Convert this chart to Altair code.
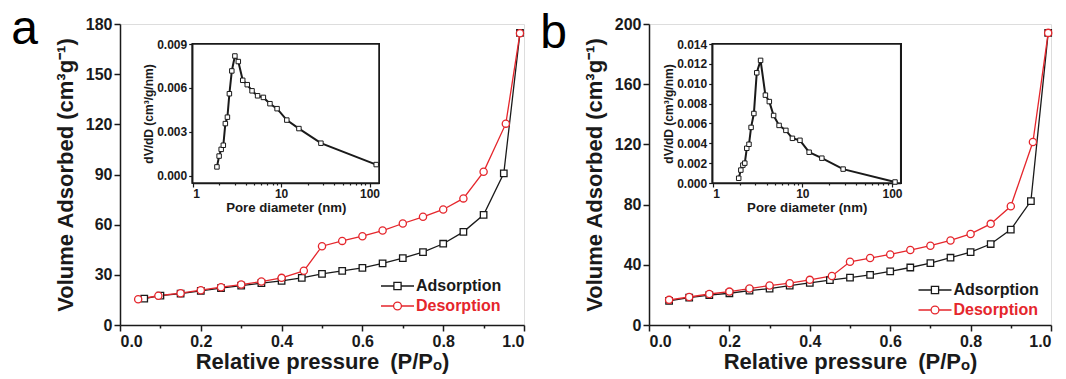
import altair as alt
import pandas as pd

BLACK = "#1a1a1a"
RED = "#e5262c"
FONT = "Liberation Sans"
SERIES = ["Adsorption", "Desorption"]

# ---------------- Panel a : N2 isotherm ----------------
a_ads_p = [0.06, 0.10, 0.15, 0.20, 0.25, 0.30, 0.35, 0.40, 0.45, 0.50,
           0.55, 0.60, 0.65, 0.70, 0.75, 0.80, 0.85, 0.90, 0.95, 0.99]
a_ads_v = [15.8, 17.6, 18.8, 20.4, 22.0, 23.6, 25.0, 26.4, 28.2, 30.6,
           32.4, 34.2, 36.8, 40.0, 43.6, 48.6, 55.7, 65.9, 90.7, 174.7]
a_des_p = [0.045, 0.095, 0.15, 0.20, 0.25, 0.30, 0.35, 0.40, 0.455, 0.50,
           0.55, 0.60, 0.65, 0.70, 0.75, 0.80, 0.85, 0.90, 0.955, 0.99]
a_des_v = [15.4, 17.5, 19.0, 20.8, 22.6, 24.2, 26.0, 28.2, 32.4, 47.1,
           50.3, 53.1, 56.5, 60.7, 64.7, 69.1, 75.7, 91.6, 120.4, 174.5]
# Panel a inset : pore size distribution
a_psd_d = [1.88, 1.99, 2.10, 2.22, 2.34, 2.47, 2.60, 2.77, 3.0, 3.28, 3.68,
           4.14, 4.69, 5.42, 6.30, 7.48, 9.0, 11.6, 15.9, 28.2, 119.0]
a_psd_v = [0.0006, 0.00134, 0.0018, 0.00208, 0.00356, 0.004, 0.0056, 0.00716,
           0.00818, 0.0078, 0.00652, 0.00622, 0.0058, 0.00546, 0.00535, 0.00492,
           0.00458, 0.0038, 0.00322, 0.00222, 0.00076]

# ---------------- Panel b : N2 isotherm ----------------
b_ads_p = [0.05, 0.10, 0.15, 0.20, 0.25, 0.30, 0.35, 0.40, 0.45, 0.50,
           0.55, 0.60, 0.65, 0.70, 0.75, 0.80, 0.85, 0.90, 0.95, 0.993]
b_ads_v = [16.0, 18.2, 19.8, 21.1, 22.9, 24.2, 26.2, 28.0, 29.8, 31.5,
           33.3, 35.6, 38.2, 41.1, 44.7, 48.4, 53.8, 63.4, 82.3, 194.1]
b_des_p = [0.05, 0.10, 0.15, 0.20, 0.25, 0.30, 0.35, 0.40, 0.455, 0.50,
           0.55, 0.60, 0.65, 0.70, 0.75, 0.80, 0.85, 0.90, 0.955, 0.993]
b_des_v = [16.7, 18.6, 20.6, 22.2, 24.2, 26.2, 27.8, 30.0, 32.6, 42.0,
           44.5, 46.9, 49.8, 52.7, 56.2, 60.5, 67.2, 78.9, 121.6, 194.1]
# Panel b inset
b_psd_d = [1.95, 2.06, 2.17, 2.28, 2.40, 2.54, 2.68, 2.88, 3.10, 3.42, 3.87,
           4.28, 4.78, 5.50, 6.55, 7.75, 9.4, 11.9, 16.5, 28.5, 108.0]
b_psd_v = [0.00048, 0.0013, 0.0018, 0.002, 0.0035, 0.0039, 0.0056, 0.0070,
           0.0111, 0.01235, 0.00885, 0.0082, 0.0068, 0.0058, 0.0053, 0.0045,
           0.0043, 0.0031, 0.0025, 0.0014, 0.0001]

# axis tick values / labels
iso_x_ticks = [round(i * 0.1, 1) for i in range(11)]
a_y_ticks = [0, 30, 60, 90, 120, 150, 180]
b_y_ticks = [0, 40, 80, 120, 160, 200]
psd_x_ticks = [1, 2, 3, 4, 5, 6, 7, 8, 9, 10, 20, 30, 40, 50, 60, 70, 80, 90, 100]
a_psd_y_ticks = [0.0, 0.003, 0.006, 0.009]
b_psd_y_ticks = [0.0, 0.002, 0.004, 0.006, 0.008, 0.010, 0.012, 0.014]

SQ_PATH = "M-2.75,0H-0.6M0.6,0H2.75M-0.6,-0.6H0.6V0.6H-0.6Z"
CI_PATH = "M-2.75,0H-0.65M0.65,0H2.75M-0.65,0A0.65,0.65 0 1,0 0.65,0A0.65,0.65 0 1,0 -0.65,0"


def iso_df(ap, av, dp, dv):
    return pd.DataFrame({"p": ap + dp, "v": av + dv,
                         "s": [SERIES[0]] * len(ap) + [SERIES[1]] * len(dp)})


def panel(letter, iso, psd_d, psd_v, ymax, yticks, W, H,
          inset_xdom, inset_ydom, inset_xr, inset_yr, inset_yticks,
          leg_x, leg_y, title_dx, title_offset):
    base_axis = dict(domainColor=BLACK, domainWidth=1.5, tickColor=BLACK,
                     tickWidth=1.5, labelFont=FONT, labelFontWeight="bold",
                     labelColor=BLACK, titleFont=FONT, titleFontWeight="bold",
                     titleColor=BLACK, grid=False)
    x = alt.X("p:Q", scale=alt.Scale(domain=[0, 1], nice=False),
              title="Relative pressure\u2002(P/Pₒ)",
              axis=alt.Axis(values=iso_x_ticks,
                            labelExpr="round(datum.value*10) % 2 == 0 ? format(datum.value, '.1f') : ''",
                            tickSize={"condition": {"test": "round(datum.value*10) % 2 == 1", "value": 3}, "value": 6},
                            labelFontSize=16, labelPadding=2, titleFontSize=22,
                            titlePadding=2, **base_axis))
    y = alt.Y("v:Q", scale=alt.Scale(domain=[0, ymax], nice=False),
              title="Volume Adsorbed (cm³g⁻¹)",
              axis=alt.Axis(values=yticks, format="d", tickSize=6,
                            labelFontSize=16, labelPadding=2, titleFontSize=22,
                            titlePadding=8, **base_axis))
    ch = alt.Chart(iso)
    ads = "datum.s == 'Adsorption'"
    des = "datum.s == 'Desorption'"
    ads_line = ch.transform_filter(ads).mark_line(color=BLACK, strokeWidth=1.3).encode(x=x, y=y)
    des_line = ch.transform_filter(des).mark_line(color=RED, strokeWidth=1.3).encode(x=x, y=y)
    ads_pts = ch.transform_filter(ads).mark_point(shape="square", size=42, stroke=BLACK,
                                                 fill="white", filled=True, strokeWidth=1.3,
                                                 opacity=1).encode(x=x, y=y)
    des_pts = ch.transform_filter(des).mark_point(shape="circle", size=52, stroke=RED,
                                                 fill="white", filled=True, strokeWidth=1.3,
                                                 opacity=1).encode(x=x, y=y)
    legend = alt.Legend(title=None, orient="none", legendX=leg_x, legendY=leg_y,
                        symbolSize=144, symbolStrokeWidth=1.3, symbolOpacity=1,
                        labelFont=FONT, labelFontWeight="bold", labelFontSize=16,
                        labelColor={"expr": f"datum.label == 'Desorption' ? '{RED}' : '{BLACK}'"},
                        labelOffset=10.5, rowPadding=4)
    leg_layer = ch.mark_point(opacity=0, strokeWidth=1.3).encode(
        x=x, y=y,
        color=alt.Color("s:N", scale=alt.Scale(domain=SERIES, range=[BLACK, RED]), legend=legend),
        shape=alt.Shape("s:N", scale=alt.Scale(domain=SERIES, range=[SQ_PATH, CI_PATH]), legend=legend),
    )
    main = alt.layer(ads_line, des_line, ads_pts, des_pts, leg_layer)

    # ---------- inset ----------
    psd = pd.DataFrame({"d": psd_d, "v": psd_v})
    ia = dict(domainColor=BLACK, domainWidth=1.5, tickColor=BLACK, tickWidth=1.2,
              labelFont=FONT, labelFontWeight="bold", labelColor=BLACK,
              titleFont=FONT, titleFontWeight="bold", titleColor=BLACK, grid=False)
    ix_scale = alt.Scale(type="log", domain=inset_xdom, range=inset_xr, nice=False)
    ix_axis = alt.Axis(orient="bottom", offset=inset_yr[0] - H, values=psd_x_ticks,
                       labelExpr="datum.value == 1 || datum.value == 10 || datum.value == 100 ? datum.value : ''",
                       tickSize={"condition": {"test": "datum.value == 1 || datum.value == 10 || datum.value == 100", "value": 4}, "value": 2},
                       labelFontSize=12, labelPadding=1, titleFontSize=13.2,
                       titlePadding=2, **ia)
    ix_title = "Pore diameter (nm)"
    iy_scale = alt.Scale(domain=inset_ydom, range=inset_yr, nice=False)
    iy_axis = alt.Axis(orient="left", offset=-inset_xr[0], values=inset_yticks,
                       format=".3f", tickSize=4, labelFontSize=12, labelPadding=2,
                       titleFontSize=12, titlePadding=1, minExtent=10, **ia)
    iy_title = "dV/dD (cm³/g/nm)"
    ix = alt.X("d:Q", scale=ix_scale, axis=ix_axis, title=ix_title)
    iy = alt.Y("v:Q", scale=iy_scale, axis=iy_axis, title=iy_title)
    ich = alt.Chart(psd)
    frame = ich.mark_rect(fill="white", stroke=BLACK, strokeWidth=1.5).encode(
        x=alt.X(datum=inset_xdom[0], type="quantitative", scale=ix_scale, axis=ix_axis, title=ix_title),
        x2=alt.X2(datum=inset_xdom[1]),
        y=alt.Y(datum=inset_ydom[0], type="quantitative", scale=iy_scale, axis=iy_axis, title=iy_title),
        y2=alt.Y2(datum=inset_ydom[1]),
    )
    iline = ich.mark_line(color=BLACK, strokeWidth=2).encode(x=ix, y=iy)
    ipts = ich.mark_point(shape="square", size=20, stroke=BLACK, fill="white", filled=True,
                          strokeWidth=1, opacity=1).encode(x=ix, y=iy)
    inset = alt.layer(frame, iline, ipts)

    return alt.layer(main, inset).resolve_scale(x="independent", y="independent").properties(
        width=W, height=H,
        title=alt.TitleParams(letter, anchor="start", frame="bounds", fontSize=48,
                              fontWeight="normal", font=FONT, color="black",
                              offset=title_offset, dx=title_dx, baseline="alphabetic"))


pa = panel("a", iso_df(a_ads_p, a_ads_v, a_des_p, a_des_v), a_psd_d, a_psd_v, 180, a_y_ticks,
           404, 301, [1, 128], [-0.0005, 0.009], [72.7, 259], [159, 20], a_psd_y_ticks,
           269.5, 254, -43, -76)
pb = panel("b", iso_df(b_ads_p, b_ads_v, b_des_p, b_des_v), b_psd_d, b_psd_v, 200, b_y_ticks,
           402, 301, [1, 125], [0, 0.014], [63.7, 251.7], [159, 20], b_psd_y_ticks,
           278, 258, -43, -80)

chart = alt.hconcat(pa, pb, spacing=11).resolve_scale(
    color="independent", shape="independent"
).resolve_legend(color="independent", shape="independent").properties(
    padding={"left": 10, "top": 5, "right": 4, "bottom": 2}
).configure_view(stroke=BLACK, strokeWidth=1.5).configure(background="white")

chart.save("out.html", embed_options={"renderer": "svg", "actions": False})
